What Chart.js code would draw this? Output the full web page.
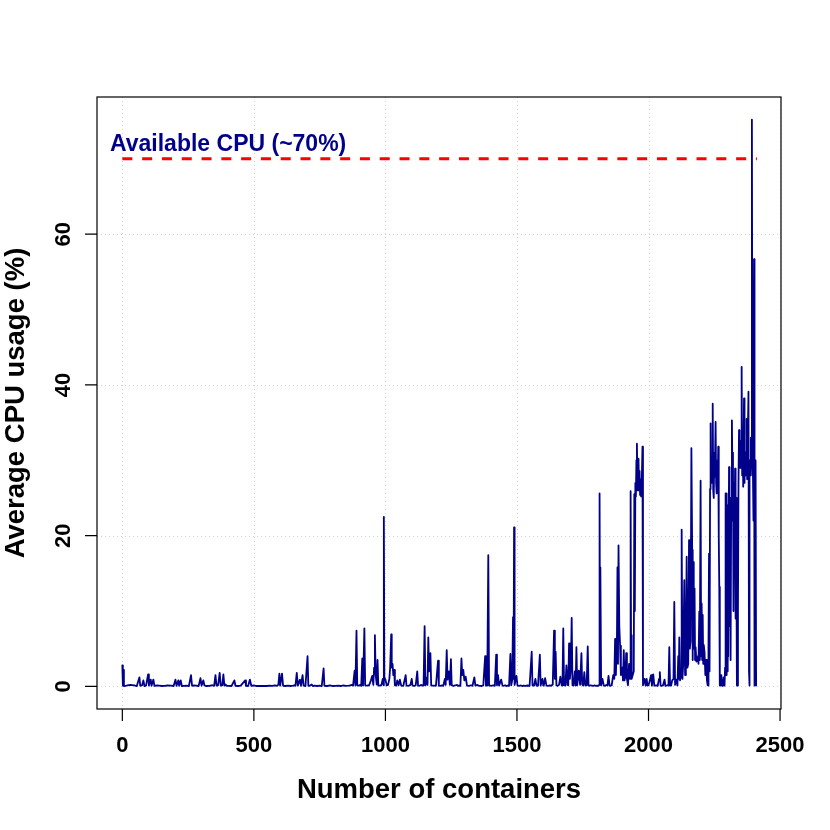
<!DOCTYPE html>
<html><head><meta charset="utf-8">
<script src="https://cdn.jsdelivr.net/npm/chart.js@4"></script>
<style>html,body{margin:0;padding:0;background:#fff}canvas{display:block}</style>
</head><body>
<canvas id="c" width="830" height="830"></canvas>
<script>
const containerIdx = [
0,2,4,6,15,30,45,55,65,68,
75,80,84,90,98,101,108,111,118,122,
132,140,150,160,172,185,195,202,206,213,
216,222,226,235,245,253,261,265,272,280,
290,297,301,308,312,320,330,342,349,354,
358,364,370,374,380,384,388,392,397,405,
415,426,430,440,450,467,470,478,485,490,
500,510,520,530,540,550,560,570,580,588,
593,597,600,607,611,620,630,640,648,655,
658,663,667,675,679,685,689,696,704,707,
713,720,724,730,740,750,758,765,768,778,
790,800,810,820,830,840,850,860,866,872,
877,883,886,890,893,899,905,908,912,915,
920,923,930,938,945,950,954,957,960,963,
967,970,973,980,985,990,993,994,996,1000,
1005,1010,1015,1018,1022,1024,1027,1030,1033,1036,
1041,1045,1050,1055,1060,1068,1077,1080,1088,1095,
1100,1103,1110,1115,1121,1124,1130,1135,1140,1145,
1149,1152,1158,1160,1163,1166,1171,1174,1180,1185,
1192,1200,1203,1208,1215,1220,1226,1229,1233,1236,
1241,1245,1249,1252,1258,1265,1272,1276,1280,1285,
1289,1292,1296,1300,1305,1310,1318,1325,1331,1338,
1342,1350,1355,1360,1366,1372,1379,1382,1387,1391,
1394,1400,1405,1410,1416,1421,1424,1428,1432,1440,
1445,1450,1455,1460,1464,1470,1475,1478,1482,1485,
1487,1489,1491,1498,1502,1508,1515,1520,1525,1532,
1540,1548,1556,1559,1565,1570,1574,1580,1587,1590,
1597,1600,1602,1607,1612,1618,1625,1630,1636,1641,
1644,1647,1650,1655,1660,1665,1670,1673,1676,1679,
1684,1688,1692,1695,1698,1701,1705,1708,1711,1715,
1720,1723,1726,1729,1735,1740,1745,1748,1752,1756,
1760,1765,1769,1772,1776,1780,1788,1795,1800,1805,
1810,1812,1814,1816,1817,1820,1825,1830,1835,1840,
1844,1848,1852,1856,1860,1866,1870,1873,1876,1880,
1882,1884,1886,1889,1892,1895,1900,1903,1906,1909,
1913,1915,1918,1922,1926,1930,1932,1934,1935,1937,
1940,1944,1946,1948,1950,1952,1954,1956,1958,1960,
1962,1964,1966,1968,1970,1972,1974,1977,1979,1985,
1989,1993,1996,2000,2005,2010,2013,2018,2022,2030,
2035,2040,2043,2046,2050,2055,2061,2064,2068,2072,
2076,2079,2082,2086,2090,2095,2098,2101,2106,2110,
2113,2115,2117,2120,2124,2126,2129,2132,2136,2139,
2142,2145,2148,2151,2154,2157,2160,2163,2166,2168,
2170,2172,2175,2177,2179,2182,2185,2188,2190,2193,
2195,2198,2200,2202,2204,2206,2208,2210,2213,2216,
2219,2222,2225,2227,2228,2230,2232,2234,2236,2238,
2240,2242,2244,2246,2248,2250,2252,2255,2257,2259,
2261,2263,2265,2267,2269,2271,2274,2277,2280,2283,
2286,2289,2291,2293,2295,2297,2299,2301,2303,2306,
2308,2310,2312,2314,2317,2319,2321,2323,2325,2327,
2329,2331,2333,2336,2338,2340,2342,2344,2346,2348,
2350,2352,2354,2356,2358,2360,2363,2365,2367,2369,
2371,2373,2375,2377,2380,2382,2383,2385,2387,2389,
2391,2393,2395,2397,2399,2401,2403,2405,2407,2409
];
const cpuUsage = [
2.8,0.1,2.2,0.05,0.1,0.2,0.12,0.05,1.2,0.08,
0.15,0.8,0.05,0.1,1.6,0.12,0.9,0.08,0.9,0.08,
0.12,0.1,0.05,0.08,0.12,0.1,0.05,0.9,0.08,0.8,
0.08,0.8,0.05,0.08,0.1,0.05,1.5,0.08,0.12,0.1,
0.05,1.1,0.1,0.8,0.12,0.05,0.08,0.15,0.08,1.5,
0.1,0.15,1.8,0.1,0.15,1.6,0.1,0.25,0.08,0.08,
0.05,0.8,0.08,0.05,0.1,0.8,0.08,0.05,0.9,0.08,
0.12,0.05,0.08,0.05,0.08,0.05,0.1,0.08,0.15,0.08,
0.2,1.7,0.1,1.7,0.08,0.05,0.1,0.05,0.1,0.15,
0.08,1.8,0.1,0.9,0.08,1.5,0.1,0.05,4.0,0.08,
0.1,0.25,0.05,0.1,0.05,0.1,0.05,2.4,0.08,0.05,
0.12,0.05,0.08,0.1,0.05,0.12,0.08,0.1,0.12,0.2,
0.1,2.1,0.12,7.4,0.15,0.1,0.2,0.08,3.7,0.12,
7.7,0.15,0.1,0.15,0.8,1.4,0.2,2.5,6.8,1.5,
0.25,3.5,0.12,0.1,0.2,1.0,0.15,22.5,1.2,0.9,
0.12,0.2,1.0,2.5,6.9,2.5,3.0,1.5,2.2,0.15,
0.1,0.8,0.15,0.9,0.1,0.08,1.5,0.1,0.08,0.2,
1.0,0.1,0.08,0.12,2.0,0.1,0.08,0.2,0.12,0.1,
8.0,0.15,1.2,0.2,6.5,2.0,4.4,0.12,0.1,0.1,
0.08,3.4,0.1,0.08,0.12,0.08,1.0,0.2,4.8,0.9,
2.0,0.2,3.6,0.12,0.08,0.12,0.2,0.08,0.1,0.08,
3.7,1.5,2.2,0.8,1.3,0.1,0.08,0.15,0.08,1.2,
0.1,0.2,0.08,0.08,0.05,0.12,4.0,0.12,0.1,17.4,
0.12,0.1,0.08,0.15,0.08,4.2,0.15,1.5,0.1,0.9,
0.1,0.08,0.15,0.05,0.1,0.08,4.3,0.15,0.8,9.2,
1.0,21.1,0.2,1.4,0.1,0.08,0.12,0.05,0.1,0.08,
0.12,0.08,4.6,0.12,0.1,1.0,0.1,0.08,4.2,0.12,
1.0,0.1,0.15,1.1,0.1,0.08,0.12,0.08,0.25,7.4,
1.0,4.6,0.12,0.08,0.2,1.3,0.15,0.1,7.7,0.15,
0.12,2.8,0.2,0.15,5.7,1.0,2.5,9.1,0.15,0.12,
2.0,0.12,5.2,0.15,2.1,0.2,4.4,0.25,0.1,1.9,
0.12,0.15,5.3,0.12,0.1,0.15,0.08,0.12,0.08,0.1,
0.08,0.2,25.6,1.0,15.8,0.15,1.0,0.1,0.08,0.2,
0.1,1.4,0.1,0.08,0.15,1.5,1.0,6.3,1.5,6.4,
15.8,3.0,18.7,8.0,5.4,1.5,2.5,0.8,4.8,0.8,
1.5,4.4,1.0,0.15,3.0,1.0,25.9,2.0,6.8,1.0,
1.5,2.0,25.5,10.0,27.0,25.2,30.0,32.2,26.0,28.5,
30.2,26.0,28.6,25.4,27.5,25.2,26.5,31.8,0.15,1.0,
0.1,1.0,0.1,0.15,0.8,1.5,0.1,1.6,0.1,0.12,
0.08,1.0,1.9,0.1,0.08,0.12,0.9,0.08,0.1,0.15,
0.1,5.2,0.12,0.1,0.8,1.0,11.2,0.2,0.9,0.12,
4.0,1.0,6.5,0.8,1.5,20.8,1.0,3.0,14.1,1.5,
4.0,17.2,2.5,3.0,19.4,5.0,6.0,31.6,18.1,3.5,
16.5,5.0,13.0,3.5,5.2,3.3,3.5,4.0,3.0,9.9,
3.5,27.3,4.0,11.0,3.5,9.5,3.0,5.5,4.5,1.5,
3.5,0.8,0.15,0.12,5.0,17.6,2.0,26.2,34.9,27.0,
28.0,27.8,37.5,26.0,25.0,31.0,27.8,35.1,27.0,25.6,
30.0,26.5,31.8,20.0,13.2,0.12,0.1,1.5,0.08,0.2,
1.2,0.1,2.5,25.6,1.5,25.6,2.0,24.0,4.0,29.1,
8.0,25.0,3.5,22.0,35.3,28.0,31.0,10.0,27.0,21.0,
28.9,9.0,25.0,0.12,0.12,10.0,27.0,34.0,29.0,32.5,
29.0,31.0,42.4,28.0,33.0,26.5,38.2,27.0,31.0,28.0,
30.0,35.5,27.5,32.0,39.1,2.0,0.12,30.0,28.0,33.0,
29.0,75.2,30.0,28.0,22.0,56.7,0.12,17.8,30.0,0.12
];
const xTicks = [0, 500, 1000, 1500, 2000, 2500];
const yTicks = [0, 20, 40, 60];
const availableCpu = 70;
const availableSpan = [0, 2412];
const xAxisTitle = "Number of containers";
const yAxisTitle = "Average CPU usage (%)";
const annotationText = "Available CPU (~70%)";

const FONT = '"Liberation Sans", Arial, Helvetica, sans-serif';
const usagePoints = containerIdx.map((x, i) => ({ x: x, y: cpuUsage[i] }));
const thresholdPoints = availableSpan.map(x => ({ x: x, y: availableCpu }));

const rStyle = {
  id: 'rStyle',
  beforeDatasetsDraw(chart) {
    const { ctx, chartArea: a, scales: { x, y } } = chart;
    ctx.save();
    ctx.strokeStyle = '#D3D3D3';
    ctx.lineWidth = 1;
    ctx.setLineDash([1, 3]);
    xTicks.forEach(v => {
      const px = Math.round(x.getPixelForValue(v)) + 0.5;
      ctx.beginPath(); ctx.moveTo(px, a.top); ctx.lineTo(px, a.bottom); ctx.stroke();
    });
    yTicks.forEach(v => {
      const py = Math.round(y.getPixelForValue(v)) + 0.5;
      ctx.beginPath(); ctx.moveTo(a.left, py); ctx.lineTo(a.right, py); ctx.stroke();
    });
    ctx.restore();
  },
  afterDraw(chart) {
    const { ctx, chartArea: a, scales: { x, y } } = chart;
    ctx.save();
    ctx.setLineDash([]);
    ctx.strokeStyle = '#000';
    ctx.lineWidth = 1.2;
    ctx.strokeRect(a.left, a.top, a.right - a.left, a.bottom - a.top);
    ctx.beginPath();
    xTicks.forEach(v => {
      const px = x.getPixelForValue(v);
      ctx.moveTo(px, a.bottom); ctx.lineTo(px, a.bottom + 12);
    });
    yTicks.forEach(v => {
      const py = y.getPixelForValue(v);
      ctx.moveTo(a.left, py); ctx.lineTo(a.left - 12, py);
    });
    ctx.stroke();
    ctx.fillStyle = '#000';
    ctx.font = 'bold 22px ' + FONT;
    ctx.textAlign = 'center';
    ctx.textBaseline = 'alphabetic';
    xTicks.forEach(v => {
      ctx.fillText(String(v), x.getPixelForValue(v), 751.5);
    });
    yTicks.forEach(v => {
      ctx.save();
      ctx.translate(70, y.getPixelForValue(v));
      ctx.rotate(-Math.PI / 2);
      ctx.fillText(String(v), 0, 0);
      ctx.restore();
    });
    ctx.font = 'bold 27.5px ' + FONT;
    ctx.fillText(xAxisTitle, (a.left + a.right) / 2, 798);
    ctx.save();
    ctx.translate(23.5, (a.top + a.bottom) / 2);
    ctx.rotate(-Math.PI / 2);
    ctx.fillText(yAxisTitle, 0, 0);
    ctx.restore();
    ctx.fillStyle = '#00008B';
    ctx.font = 'bold 23px ' + FONT;
    ctx.textAlign = 'left';
    ctx.fillText(annotationText, 110, 150.5);
    ctx.restore();
  }
};

new Chart(document.getElementById('c'), {
  type: 'line',
  data: {
    datasets: [
      {
        label: 'Average CPU usage',
        data: usagePoints,
        borderColor: '#00008B',
        borderWidth: 1.8,
        borderJoinStyle: 'round',
        borderCapStyle: 'round',
        pointRadius: 0,
        tension: 0,
        fill: false,
        order: 2
      },
      {
        label: 'Available CPU',
        data: thresholdPoints,
        borderColor: '#FF0000',
        borderWidth: 3,
        borderDash: [10, 9.8],
        borderCapStyle: 'butt',
        pointRadius: 0,
        fill: false,
        order: 1
      }
    ]
  },
  options: {
    responsive: false,
    animation: false,
    layout: { padding: { left: 97, right: 49, top: 97, bottom: 121 } },
    plugins: { legend: { display: false }, tooltip: { enabled: false }, title: { display: false } },
    scales: {
      x: { type: 'linear', min: -96.3, max: 2503.6, display: false },
      y: { type: 'linear', min: -3.0, max: 78.2, display: false }
    }
  },
  plugins: [rStyle]
});
</script>
</body></html>
